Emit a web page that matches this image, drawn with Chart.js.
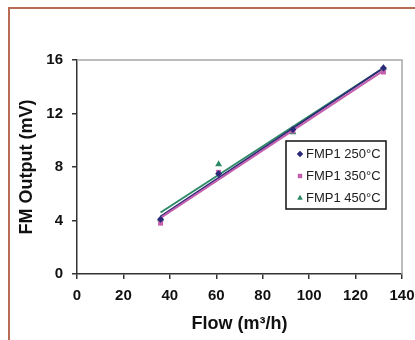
<!DOCTYPE html>
<html>
<head>
<meta charset="utf-8">
<script src="https://cdn.jsdelivr.net/npm/chart.js@4"></script>
<style>
  html, body { margin: 0; padding: 0; background: #fff; }
  #wrap { position: relative; width: 415px; height: 340px; overflow: hidden; }
  #frame {
    position: absolute; left: 8px; top: 7px; width: 420px; height: 350px;
    border-top: 2px solid #b96c54; border-left: 2px solid #b96c54;
  }
  canvas { position: absolute; left: 0; top: 0; }
</style>
</head>
<body>
<div id="wrap">
  <div id="frame"></div>
  <canvas id="fmChart" width="415" height="340"></canvas>
</div>
<script>
// ---------- DATA ----------
const seriesNames = ["FMP1 250°C", "FMP1 350°C", "FMP1 450°C"];
const flow = [36, 61, 93, 132];
const out250 = [4.1, 7.5, 10.8, 15.4];
const out350 = [3.8, 7.6, 10.7, 15.1];
const out450 = [4.1, 8.2, 10.6, 15.4];

// trendline ends
const trendFlow = [36, 132];
const trend250 = [4.3, 15.4];
const trend350 = [4.2, 15.2];
const trend450 = [4.6, 15.4];

const xTicks = [0, 20, 40, 60, 80, 100, 120, 140];
const yTicks = [0, 4, 8, 12, 16];

// ---------- COLOURS ----------
const navy = "#2c2a78";
const magenta = "#c45fae";
const green = "#2e8a66";

function pts(xs, ys) {
  return xs.map((x, i) => ({ x: x, y: ys[i] }));
}

// ---------- LEGEND BOX (inside plot) ----------
const boxLegend = {
  id: "boxLegend",
  afterDraw(chart) {
    const ctx = chart.ctx;
    const a = chart.chartArea;
    const left = a.left + 209, top = a.top + 81, w = 100, h = 68;
    ctx.save();
    ctx.fillStyle = "#fff";
    ctx.fillRect(left, top, w, h);
    ctx.strokeStyle = "#111";
    ctx.lineWidth = 1.5;
    ctx.strokeRect(left, top, w, h);
    ctx.font = "13px 'Liberation Sans', Arial, sans-serif";
    ctx.textBaseline = "middle";
    const marks = chart.data.datasets.filter(d => d.isMarker);
    marks.forEach((ds, i) => {
      const y = top + 13 + i * 22;
      ctx.fillStyle = ds.backgroundColor;
      Chart.helpers.drawPoint(ctx, { pointStyle: ds.pointStyle, radius: 3, rotation: 0, borderWidth: 0 }, left + 14, y);
      ctx.fill();
      ctx.fillStyle = "#222";
      ctx.fillText(ds.label, left + 20, y);
    });
    ctx.restore();
  },
};

// ---------- PLOT BORDER (top + right, grey) ----------
const plotBorder = {
  id: "plotBorder",
  beforeDatasetsDraw(chart) {
    const ctx = chart.ctx;
    const a = chart.chartArea;
    ctx.save();
    ctx.strokeStyle = "#a8a8a8";
    ctx.lineWidth = 1.5;
    ctx.beginPath();
    ctx.moveTo(a.left, a.top);
    ctx.lineTo(a.right, a.top);
    ctx.lineTo(a.right, a.bottom);
    ctx.stroke();
    ctx.restore();
  },
};

// ---------- CREATE CHART ----------
const ctx = document.getElementById("fmChart").getContext("2d");

const lineStyle = (color, ys) => ({
  type: "line",
  data: pts(trendFlow, ys),
  borderColor: color,
  borderWidth: 2,
  pointRadius: 0,
  fill: false,
  showLine: true,
});

const markStyle = (name, color, style, ys, r) => ({
  type: "scatter",
  label: name,
  isMarker: true,
  data: pts(flow, ys),
  backgroundColor: color,
  borderColor: color,
  borderWidth: 0,
  pointStyle: style,
  pointRadius: r,
});

const tickFont = { family: "'Liberation Sans', Arial", size: 15, weight: "bold" };
const titleFont = { family: "'Liberation Sans', Arial", size: 18, weight: "bold" };

new Chart(ctx, {
  data: {
    datasets: [
      markStyle(seriesNames[0], navy, "rectRot", out250, 3.5),
      markStyle(seriesNames[1], magenta, "rect", out350, 3.5),
      markStyle(seriesNames[2], green, "triangle", out450, 4),
      lineStyle(magenta, trend350),
      lineStyle(navy, trend250),
      lineStyle(green, trend450),
    ],
  },
  options: {
    responsive: false,
    animation: false,
    layout: { padding: { left: 0, top: 60, right: 13, bottom: 0 } },
    plugins: {
      legend: { display: false },
      tooltip: { enabled: false },
    },
    scales: {
      x: {
        type: "linear",
        min: 0,
        max: 140,
        afterBuildTicks: (s) => { s.ticks = xTicks.map(v => ({ value: v })); },
        afterFit: (s) => { s.height = 66; s.paddingLeft = 0; s.paddingRight = 0; },
        ticks: { color: "#111", padding: 8, font: tickFont },
        grid: { drawOnChartArea: false, tickLength: 5, color: "#333", lineWidth: 1.5 },
        border: { display: true, color: "#333", width: 1.5 },
        title: {
          display: true,
          text: "Flow (m³/h)",
          color: "#111",
          padding: { top: 0, bottom: 5 },
          font: titleFont,
        },
      },
      y: {
        min: 0,
        max: 16,
        afterBuildTicks: (s) => { s.ticks = yTicks.map(v => ({ value: v })); },
        afterFit: (s) => { s.width = 77; s.paddingTop = 0; s.paddingBottom = 0; },
        ticks: { color: "#111", padding: 9, font: tickFont },
        grid: { drawOnChartArea: false, tickLength: 5, color: "#333", lineWidth: 1.5 },
        border: { display: true, color: "#333", width: 1.5 },
        title: {
          display: true,
          text: "FM Output (mV)",
          color: "#111",
          padding: { top: 16, bottom: 0 },
          font: titleFont,
        },
      },
    },
  },
  plugins: [plotBorder, boxLegend],
});
</script>
</body>
</html>
